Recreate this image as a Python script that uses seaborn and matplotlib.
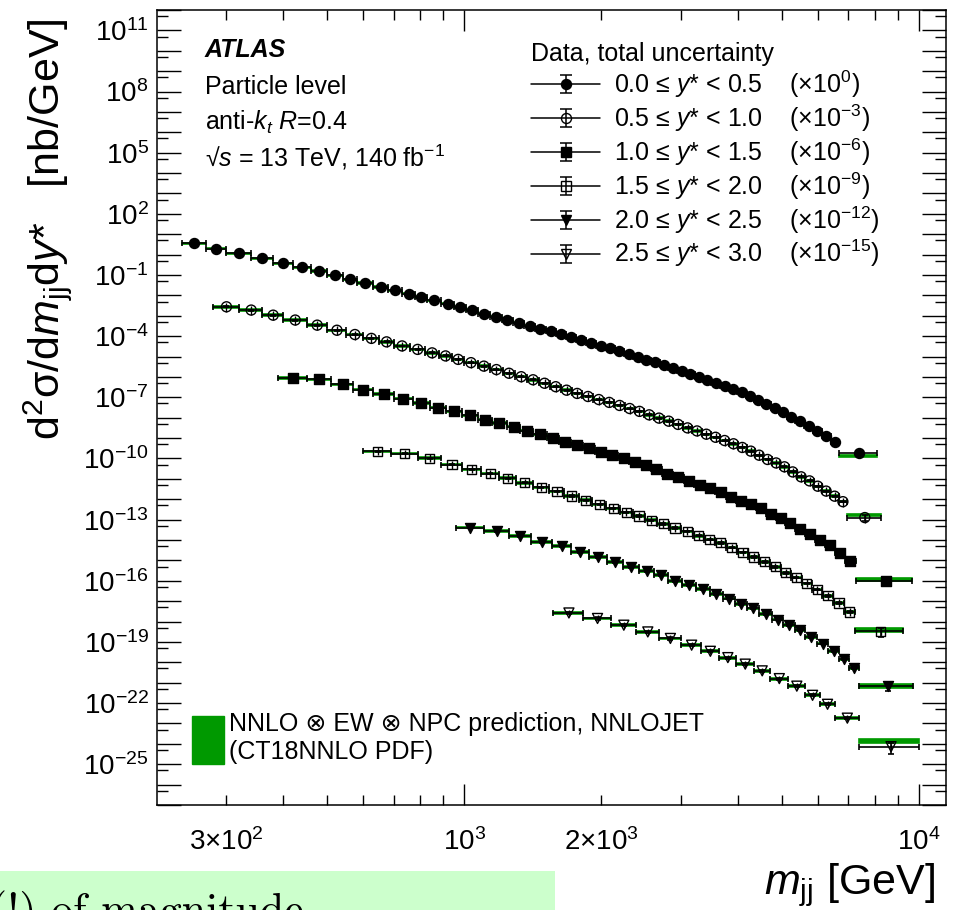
import numpy as np
import matplotlib
matplotlib.use("Agg")
import matplotlib.pyplot as plt
import seaborn as sns
from matplotlib.ticker import FixedLocator, FuncFormatter
from matplotlib.lines import Line2D
from matplotlib.patches import Patch, Rectangle
from matplotlib.collections import LineCollection
from matplotlib.container import ErrorbarContainer
from matplotlib.legend_handler import HandlerErrorbar

# ---------------------------------------------------------------------------
# Dijet-mass bin edges [GeV] per y* interval (the last bin is the wide overflow bin)
# ---------------------------------------------------------------------------
edges_y00 = [240, 270, 300, 340, 380, 420, 460, 500, 540, 580, 630, 680, 730, 780,
             830, 890, 950, 1010, 1070, 1140, 1210, 1280, 1355, 1430, 1510, 1590,
             1675, 1765, 1855, 1945, 2045, 2145, 2245, 2355, 2460, 2575, 2695, 2815,
             2945, 3075, 3215, 3355, 3500, 3660, 3820, 3990, 4160, 4330, 4515, 4720,
             4920, 5130, 5355, 5595, 5850, 6120, 6400, 6670, 8090]
edges_y05 = [280, 320, 360, 400, 450, 500, 550, 600, 650, 700, 760, 820, 880, 940,
             1000, 1070, 1140, 1215, 1295, 1375, 1460, 1545, 1635, 1725, 1820, 1925,
             2030, 2140, 2255, 2370, 2490, 2615, 2750, 2885, 3025, 3175, 3330, 3490,
             3655, 3825, 4000, 4180, 4360, 4550, 4750, 4960, 5170, 5390, 5630, 5870,
             6120, 6390, 6670, 6950, 8270]
edges_y10 = [390, 450, 510, 570, 630, 700, 770, 840, 910, 990, 1070, 1150, 1240,
             1330, 1420, 1520, 1620, 1720, 1830, 1940, 2055, 2180, 2310, 2440, 2575,
             2720, 2875, 3040, 3210, 3385, 3570, 3765, 3965, 4175, 4390, 4620, 4850,
             5085, 5350, 5630, 5920, 6230, 6540, 6880, 7260, 9650]
edges_y15 = [600, 690, 790, 890, 990, 1090, 1195, 1300, 1415, 1540, 1660, 1785, 1915,
             2055, 2200, 2350, 2500, 2660, 2820, 3000, 3190, 3375, 3560, 3770, 3990,
             4220, 4455, 4710, 4965, 5235, 5525, 5820, 6135, 6490, 6860, 7250, 9255]
edges_y20 = [960, 1105, 1255, 1405, 1560, 1720, 1885, 2060, 2240, 2425, 2615, 2815,
             3015, 3230, 3465, 3705, 3945, 4195, 4460, 4750, 5040, 5330, 5630, 5965,
             6325, 6685, 7030, 7380, 9700]
edges_y25 = [1570, 1830, 2100, 2390, 2680, 3005, 3325, 3635, 3970, 4335, 4715, 5155,
             5630, 6050, 6550, 7380, 10000]

# ---------------------------------------------------------------------------
# Measured cross sections, log10( d2sigma/dmjj dy* / [nb/GeV] ), before scaling
# ---------------------------------------------------------------------------
logxs_y00 = [0.55, 0.30, 0.06, -0.19, -0.43, -0.63, -0.81, -1.02, -1.22, -1.40,
             -1.58, -1.76, -1.92, -2.07, -2.25, -2.40, -2.56, -2.72, -2.89, -3.04,
             -3.20, -3.34, -3.49, -3.63, -3.77, -3.91, -4.05, -4.19, -4.32, -4.46,
             -4.60, -4.74, -4.87, -5.01, -5.15, -5.29, -5.42, -5.56, -5.70, -5.84,
             -5.99, -6.14, -6.29, -6.44, -6.59, -6.74, -6.92, -7.12, -7.33, -7.53,
             -7.74, -7.96, -8.17, -8.41, -8.65, -8.91, -9.17, -9.74]
logxs_y05 = [0.44, 0.28, 0.03, -0.21, -0.46, -0.71, -0.92, -1.11, -1.28, -1.48,
             -1.65, -1.82, -1.97, -2.14, -2.30, -2.47, -2.64, -2.82, -2.99, -3.14,
             -3.31, -3.48, -3.65, -3.81, -3.96, -4.11, -4.25, -4.40, -4.55, -4.69,
             -4.86, -5.02, -5.17, -5.33, -5.50, -5.65, -5.81, -5.96, -6.12, -6.28,
             -6.46, -6.64, -6.84, -7.05, -7.22, -7.41, -7.66, -7.90, -8.10, -8.36,
             -8.60, -8.85, -9.12, -9.90]
logxs_y10 = [-0.05, -0.12, -0.36, -0.62, -0.83, -1.06, -1.27, -1.50, -1.69, -1.89,
             -2.10, -2.25, -2.44, -2.63, -2.81, -2.99, -3.19, -3.35, -3.51, -3.68,
             -3.84, -4.00, -4.17, -4.33, -4.54, -4.74, -4.90, -5.11, -5.28, -5.46,
             -5.65, -5.87, -6.08, -6.24, -6.45, -6.70, -6.90, -7.16, -7.44, -7.72,
             -7.98, -8.26, -8.63, -9.04, -10.01]
logxs_y15 = [-0.65, -0.76, -0.99, -1.30, -1.53, -1.74, -1.97, -2.19, -2.42, -2.62,
             -2.84, -3.05, -3.25, -3.45, -3.64, -3.82, -4.03, -4.21, -4.41, -4.58,
             -4.79, -4.98, -5.14, -5.37, -5.61, -5.83, -6.07, -6.32, -6.61, -6.84,
             -7.13, -7.43, -7.74, -8.09, -8.53, -9.48]
logxs_y20 = [-1.39, -1.57, -1.81, -2.09, -2.30, -2.58, -2.83, -3.07, -3.32, -3.52,
             -3.73, -4.01, -4.19, -4.41, -4.66, -4.87, -5.12, -5.36, -5.61, -5.90,
             -6.15, -6.43, -6.75, -7.08, -7.46, -7.86, -8.26, -9.17]
logxs_y25 = [-2.58, -2.85, -3.18, -3.51, -3.83, -4.16, -4.46, -4.77, -5.09, -5.42,
             -5.80, -6.17, -6.62, -7.06, -7.74, -9.14]

# NNLO prediction in the overflow bin (log10, unscaled); elsewhere it sits on the data
pred_last_log = [-9.87, -9.77, -9.93, -9.41, -9.15, -8.85]

# relative uncertainties: data (regular bins / overflow bin), prediction band
data_unc = [0.05, 0.05, 0.06, 0.08, 0.10, 0.12]
data_unc_last = [0.30, 0.35, 0.35, 0.45, 0.45, 0.55]
pred_unc = [0.08, 0.08, 0.08, 0.09, 0.10, 0.10]
pred_unc_last = [0.12, 0.15, 0.18, 0.20, 0.20, 0.22]

ystar_labels = ["0.0 ≤ $y$* < 0.5", "0.5 ≤ $y$* < 1.0", "1.0 ≤ $y$* < 1.5",
                "1.5 ≤ $y$* < 2.0", "2.0 ≤ $y$* < 2.5", "2.5 ≤ $y$* < 3.0"]
scale_exp = [0, -3, -6, -9, -12, -15]

x_tick_labels = {300: r"$3{\times}10^{2}$", 1000: r"$10^{3}$",
                 2000: r"$2{\times}10^{3}$", 10000: r"$10^{4}$"}
y_label_exps = list(range(11, -26, -3))

all_edges = [edges_y00, edges_y05, edges_y10, edges_y15, edges_y20, edges_y25]
all_logxs = [logxs_y00, logxs_y05, logxs_y10, logxs_y15, logxs_y20, logxs_y25]

# marker style per y* interval: (marker, filled, size in pt)
styles = [("o", True, 7.2), ("o", False, 7.2), ("s", True, 6.6),
          ("s", False, 6.6), ("v", True, 7.2), ("v", False, 7.2)]

GREEN = "#009900"

# ---------------------------------------------------------------------------
sns.set_theme(style="ticks")
plt.rcParams["font.family"] = ["Liberation Sans", "DejaVu Sans"]
plt.rcParams["mathtext.fontset"] = "custom"
plt.rcParams["mathtext.rm"] = "Liberation Sans"
plt.rcParams["mathtext.it"] = "Liberation Sans:italic"
plt.rcParams["mathtext.bf"] = "Liberation Sans:bold"
plt.rcParams["text.color"] = "black"
plt.rcParams["axes.edgecolor"] = "black"
plt.rcParams["axes.linewidth"] = 1.1

fig = plt.figure(figsize=(9.58, 9.10), dpi=100)
fig.patch.set_facecolor("white")
ax = fig.add_axes([157 / 958, 105 / 910, 789 / 958, 795 / 910])
ax.set_xscale("log")
ax.set_yscale("log")

for i, (edges, logxs) in enumerate(zip(all_edges, all_logxs)):
    edges = np.asarray(edges, dtype=float)
    lo, hi = edges[:-1], edges[1:]
    xc = 0.5 * (lo + hi)
    scale = 10.0 ** scale_exp[i]
    y = 10.0 ** np.asarray(logxs) * scale

    # prediction band
    pred = y.copy()
    pred[-1] = 10.0 ** pred_last_log[i] * scale
    pu = np.full(len(y), pred_unc[i])
    pu[-1] = pred_unc_last[i]
    ax.bar(lo, 2 * pred * pu, width=hi - lo, bottom=pred * (1 - pu), align="edge",
           color=GREEN, edgecolor=GREEN, linewidth=1.2, zorder=2)

    # data with total uncertainty
    du = np.full(len(y), data_unc[i])
    du[-1] = data_unc_last[i]
    ax.errorbar(xc, y, xerr=[xc - lo, hi - xc], yerr=[y * du, y * du], fmt="none",
                ecolor="black", elinewidth=1.2, capsize=2.2, capthick=1.2, zorder=3)

    mk, filled, ms = styles[i]
    sns.scatterplot(x=xc, y=y, ax=ax, marker=mk, s=ms ** 2, color="black",
                    facecolor="black" if filled else "none", edgecolor="black",
                    linewidth=1.0, zorder=4, legend=False)
    if not filled:
        ax.plot(xc, y, ls="none", marker="|", ms=ms * (0.9 if mk != "v" else 0.6),
                mew=1.0, color="black", zorder=5)

ax.set_xlim(211, 11480)
ax.set_ylim(1e-27, 1e12)

# ticks
ax.xaxis.set_major_locator(FixedLocator([1e3, 1e4]))
ax.xaxis.set_minor_locator(FixedLocator(
    [k * 10 ** e for e in (2, 3) for k in range(2, 10) if 211 < k * 10 ** e < 11480]))
fmt_x = FuncFormatter(lambda v, p: x_tick_labels.get(int(round(v)), ""))
ax.xaxis.set_major_formatter(fmt_x)
ax.xaxis.set_minor_formatter(fmt_x)

ax.yaxis.set_major_locator(FixedLocator([10.0 ** k for k in range(-27, 13)]))
ax.yaxis.set_minor_locator(FixedLocator([5 * 10.0 ** k for k in range(-28, 12)]))
ax.yaxis.set_major_formatter(FuncFormatter(
    lambda v, p: r"$10^{%d}$" % round(np.log10(v)) if round(np.log10(v)) in y_label_exps else ""))
ax.yaxis.set_minor_formatter(FuncFormatter(lambda v, p: ""))

ax.tick_params(which="both", direction="in", top=True, right=True, colors="black",
               width=1.0)
ax.tick_params(axis="y", which="major", length=17, pad=6, labelsize=20)
ax.tick_params(axis="y", which="minor", length=8)
ax.tick_params(axis="x", which="major", length=15, pad=17, labelsize=20)
ax.tick_params(axis="x", which="minor", length=7.5, pad=17, labelsize=20)

# axis titles
fig.text(48 / 958, 1 - 18 / 910, "d$^{2}$σ/d$m_{\\mathrm{jj}}$d$y$*   [nb/GeV]",
         rotation=90, ha="center", va="top", fontsize=31)
fig.text(935 / 958, 16 / 910, r"$m_{\mathrm{jj}}$ [GeV]", ha="right",
         va="baseline", fontsize=31)

# labels in the upper-left corner
tx = 0.0608
ax.text(tx, 0.9409, "ATLAS", transform=ax.transAxes, fontsize=18,
        fontweight="bold", fontstyle="italic")
ax.text(tx, 0.8943, "Particle level", transform=ax.transAxes, fontsize=18)
ax.text(tx, 0.8491, "anti-$k_{t}$ $R$=0.4", transform=ax.transAxes, fontsize=18)
ax.text(tx, 0.8029, "√$s$ = 13 TeV, 140 fb$^{-1}$", transform=ax.transAxes,
        fontsize=18)

# data legend
handles, labels = [], []
for (mk, filled, ms), lab, e in zip(styles, ystar_labels, scale_exp):
    mline = Line2D([], [], color="black", lw=1.1, marker=mk, ms=ms,
                   mfc="black" if filled else "none", mec="black", mew=1.0)
    cap = Line2D([], [], color="black", marker="_", ms=9, mew=1.1, ls="none")
    bar = LineCollection([], colors="black", linewidths=1.1)
    handles.append(ErrorbarContainer((mline, (cap,), (bar,)),
                                     has_xerr=False, has_yerr=True))
    labels.append(lab + "    (×$10^{%d}$)" % e)
leg = ax.legend(handles, labels, loc="upper left",
                bbox_to_anchor=(531 / 958, 1 - 42 / 910), bbox_transform=fig.transFigure,
                frameon=False, fontsize=18, title="Data, total uncertainty",
                title_fontsize=18, alignment="left", numpoints=1,
                handlelength=2.76, handletextpad=0.56, labelspacing=0.1,
                borderpad=0, borderaxespad=0,
                handler_map={ErrorbarContainer: HandlerErrorbar(yerr_size=0.36)})
ax.add_artist(leg)

# prediction legend
ax.legend([Patch(facecolor=GREEN, edgecolor=GREEN)],
          ["NNLO ⊗ EW ⊗ NPC prediction, NNLOJET\n(CT18NNLO PDF)"],
          loc="lower left", bbox_to_anchor=(192 / 958, 1 - 764 / 910),
          bbox_transform=fig.transFigure, frameon=False, fontsize=18,
          handlelength=1.28, handleheight=2.56, handletextpad=0.2,
          borderpad=0, borderaxespad=0)

# highlighted note strip along the bottom
fig.patches.append(Rectangle((0, 0), 555 / 958, 39 / 910, transform=fig.transFigure,
                             facecolor="#ccffcc", edgecolor="none", zorder=10))
fig.text(-10 / 958, -14 / 910, "(!) of magnitude", family="cmr10", fontsize=31.7,
         ha="left", va="baseline", zorder=11)

fig.savefig("out.png", dpi=100)
